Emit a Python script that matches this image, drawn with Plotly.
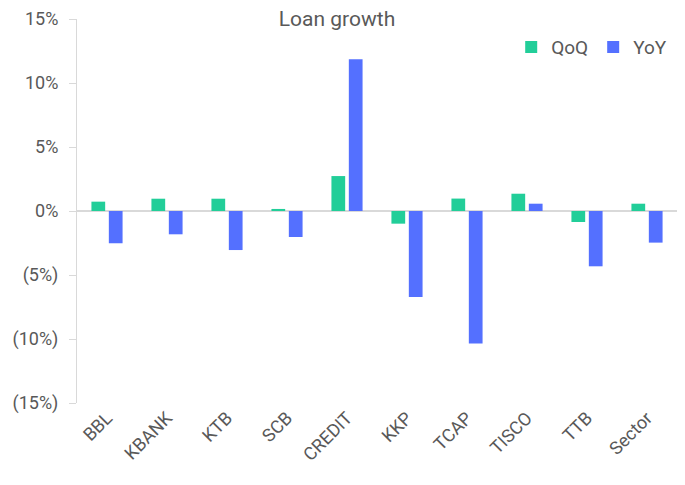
import plotly.graph_objects as go

categories = ["BBL", "KBANK", "KTB", "SCB", "CREDIT", "KKP", "TCAP", "TISCO", "TTB", "Sector"]
qoq = [0.73, 0.96, 0.96, 0.16, 2.73, -0.99, 0.97, 1.35, -0.86, 0.57]
yoy = [-2.52, -1.82, -3.05, -2.03, 11.85, -6.72, -10.36, 0.57, -4.32, -2.47]
y_tick_vals = [15, 10, 5, 0, -5, -10, -15]
y_tick_text = ["15%", "10%", "5%", "0%", "(5%)", "(10%)", "(15%)"]

GREEN = "#22CE99"
BLUE = "#5470FF"
TXT = "#595959"
FONT = "Roboto"

fig = go.Figure()
fig.add_trace(go.Bar(x=categories, y=qoq, name="QoQ", marker=dict(color=GREEN, line=dict(width=0))))
fig.add_trace(go.Bar(x=categories, y=yoy, name="YoY", marker=dict(color=BLUE, line=dict(width=0))))

fig.update_layout(
    width=685, height=485,
    margin=dict(l=69, r=16, t=11, b=90, autoexpand=False),
    paper_bgcolor="white", plot_bgcolor="white",
    font=dict(family=FONT, size=18, color=TXT),
    barmode="group", bargap=0.42, bargroupgap=0.21,
    title=dict(text="Loan growth", x=329 / 685, xanchor="center", xref="container",
               y=1 - 3 / 485, yanchor="top", yref="container", pad=dict(t=0, b=0),
               font=dict(family=FONT, size=21, color=TXT)),
    legend=dict(orientation="h", x=0.992, xanchor="right", y=0.927, yref="paper",
                yanchor="middle", font=dict(family=FONT, size=19, color=TXT),
                bgcolor="rgba(0,0,0,0)", itemwidth=30, tracegroupgap=0),
    showlegend=True,
)
fig.update_xaxes(
    showgrid=False, showline=False, zeroline=False, ticks="", automargin=False,
    tickangle=-45, tickfont=dict(family=FONT, size=18, color=TXT),
)
fig.update_yaxes(
    range=[-15, 15], tickvals=y_tick_vals, ticktext=y_tick_text, automargin=False,
    showgrid=False, showline=True, linecolor="#D9D9D9", linewidth=1,
    ticks="outside", ticklen=7, tickcolor="#D9D9D9", ticklabelstandoff=7,
    zeroline=True, zerolinecolor="#D9D9D9", zerolinewidth=2,
    tickfont=dict(family=FONT, size=18, color=TXT),
)

fig.write_html("out.html")
